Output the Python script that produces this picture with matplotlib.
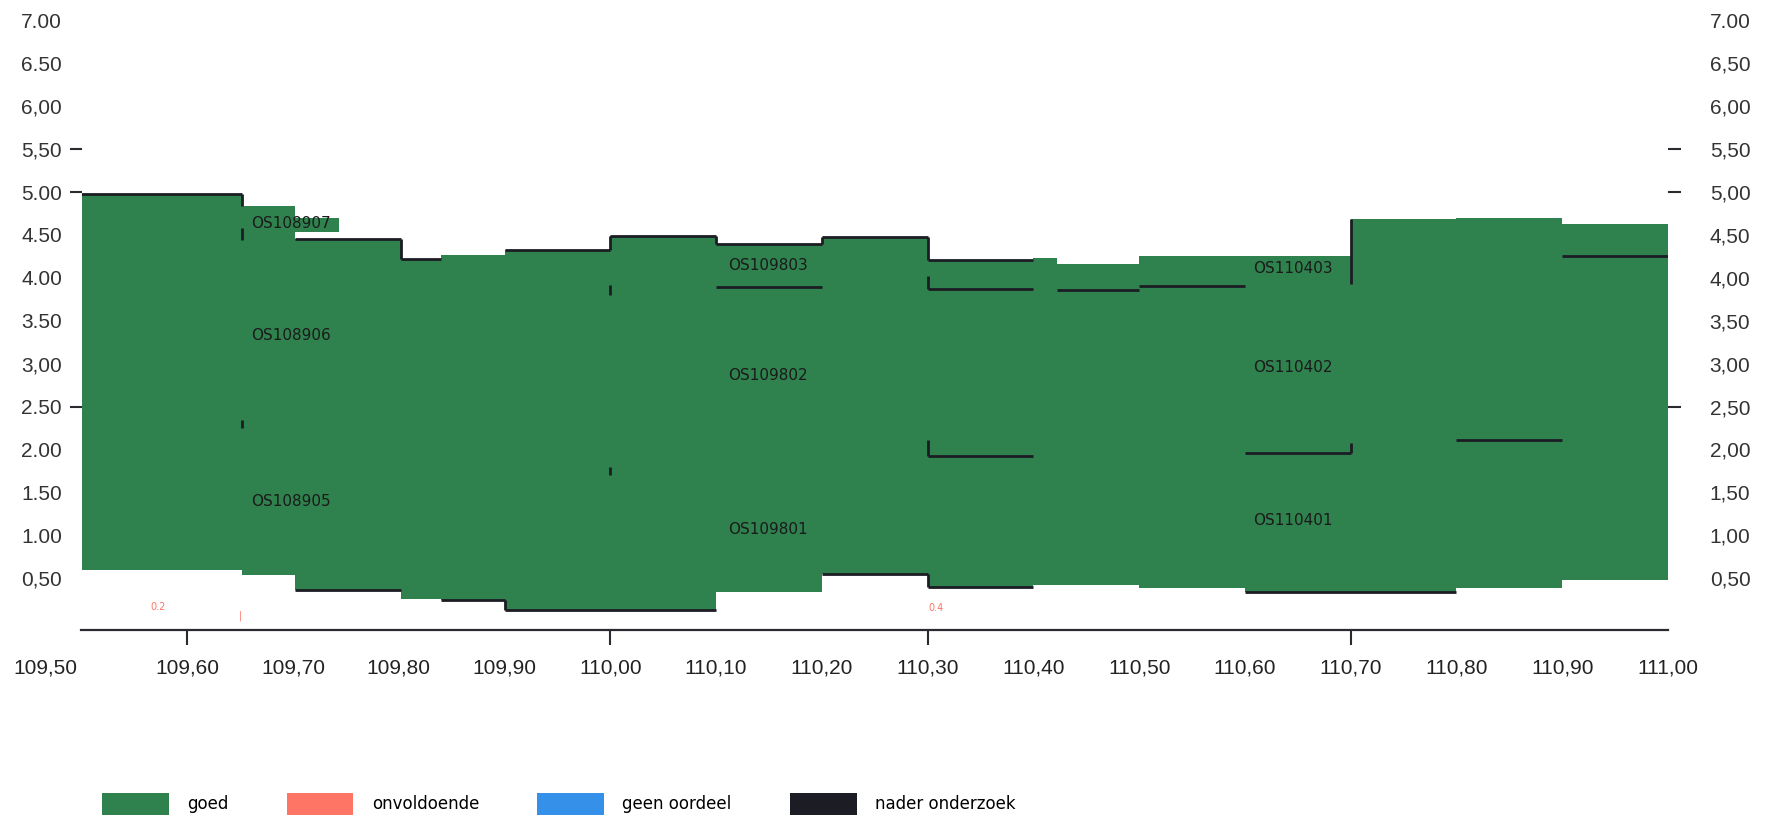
import numpy as np
import matplotlib.pyplot as plt
from matplotlib.patches import Patch
from matplotlib.transforms import ScaledTranslation

# green sections: start / end (km), bottom / top (m)
sec_start = [109.500, 109.652, 109.702, 109.802, 109.840, 109.900, 110.000, 110.100, 110.200,
             110.300, 110.400, 110.422, 110.500, 110.600, 110.700, 110.800, 110.900, 109.702]
sec_end = [109.652, 109.702, 109.802, 109.840, 109.900, 110.000, 110.100, 110.200, 110.300,
           110.400, 110.422, 110.500, 110.600, 110.700, 110.800, 110.900, 111.000, 109.743]
sec_bottom = [0.59, 0.54, 0.36, 0.26, 0.25, 0.13, 0.13, 0.34, 0.55,
              0.40, 0.42, 0.42, 0.38, 0.34, 0.34, 0.39, 0.48, 4.53]
sec_top = [4.98, 4.84, 4.45, 4.22, 4.27, 4.32, 4.49, 4.39, 4.48,
           4.21, 4.23, 4.16, 4.25, 4.25, 4.68, 4.70, 4.63, 4.70]

# black "nader onderzoek" lines
hl_x0 = [109.500, 109.702, 109.802, 109.900, 110.000, 110.100, 110.200, 110.300,
         110.100, 110.300, 110.422, 110.500, 110.300, 110.600, 110.800, 110.900,
         109.702, 109.840, 109.900, 110.200, 110.300, 110.600]
hl_x1 = [109.652, 109.802, 109.840, 110.000, 110.100, 110.200, 110.300, 110.400,
         110.200, 110.400, 110.500, 110.600, 110.400, 110.700, 110.900, 111.000,
         109.802, 109.900, 110.100, 110.300, 110.400, 110.800]
hl_y = [4.98, 4.45, 4.22, 4.32, 4.49, 4.39, 4.48, 4.21,
        3.89, 3.87, 3.86, 3.90, 1.92, 1.96, 2.11, 4.25,
        0.36, 0.25, 0.13, 0.55, 0.40, 0.34]

vl_x = [109.652, 109.652, 109.652, 109.802, 110.000, 110.000, 110.000, 110.100, 110.200,
        110.300, 110.300, 110.300, 110.300, 110.700, 110.700, 109.900]
vl_y0 = [4.84, 4.44, 2.25, 4.22, 4.32, 3.80, 1.70, 4.39, 4.39,
         4.21, 3.87, 1.92, 0.40, 3.93, 1.96, 0.13]
vl_y1 = [4.98, 4.58, 2.34, 4.45, 4.49, 3.92, 1.80, 4.49, 4.48,
         4.48, 4.02, 2.11, 0.55, 4.68, 2.07, 0.25]

# section codes
lab_text = ['OS108907', 'OS108906', 'OS108905', 'OS109803', 'OS109802', 'OS109801',
            'OS110403', 'OS110402', 'OS110401']
lab_x = [109.660, 109.660, 109.660, 110.111, 110.111, 110.111, 110.608, 110.608, 110.608]
lab_y = [4.63, 3.33, 1.39, 4.14, 2.86, 1.07, 4.11, 2.95, 1.17]

# small red values
red_text = ['0.2', '|', '0.4']
red_x = [109.572, 109.650, 110.308]
red_y = [0.16, 0.06, 0.15]

x_ticks = [109.5, 109.6, 109.7, 109.8, 109.9, 110.0, 110.1, 110.2, 110.3, 110.4,
           110.5, 110.6, 110.7, 110.8, 110.9, 111.0]
x_labels = ['109,50', '109,60', '109,70', '109,80', '109,90', '110,00', '110,10', '110,20',
            '110,30', '110,40', '110,50', '110,60', '110,70', '110,80', '110,90', '111,00']
x_marks = [109.6, 110.0, 110.3, 110.7]
y_ticks = [0.5, 1.0, 1.5, 2.0, 2.5, 3.0, 3.5, 4.0, 4.5, 5.0, 5.5, 6.0, 6.5, 7.0]
y_labels_left = ['0,50', '1.00', '1.50', '2.00', '2.50', '3,00', '3.50', '4.00', '4.50',
                 '5.00', '5,50', '6,00', '6.50', '7.00']
y_labels_right = ['0,50', '1,00', '1,50', '2,00', '2,50', '3,00', '3,50', '4,00', '4,50',
                  '5,00', '5,50', '6,00', '6,50', '7.00']
y_marks = [2.5, 5.0, 5.5]

legend_names = ['goed', 'onvoldoende', 'geen oordeel', 'nader onderzoek']
legend_colors = ['#2f824e', '#ff7565', '#3590ea', '#1c1c24']

green = legend_colors[0]
black = legend_colors[3]

fig = plt.figure(figsize=(17.75, 8.15), dpi=100)
ax = fig.add_axes([81.5 / 1775, (815 - 629.6) / 815, (1668 - 81.5) / 1775, (629.6 - 20.4) / 815])

widths = np.array(sec_end) - np.array(sec_start)
heights = np.array(sec_top) - np.array(sec_bottom)
ax.bar(sec_start, heights, width=widths, bottom=sec_bottom, align='edge',
       color=green, linewidth=0)

ax.hlines(hl_y, hl_x0, hl_x1, color=black, lw=2.0)
ax.vlines(vl_x, vl_y0, vl_y1, color=black, lw=2.0)

for t, x, y in zip(lab_text, lab_x, lab_y):
    ax.text(x, y, t, ha='left', va='center', fontsize=11, color='#1a1a1a',
            family='DejaVu Sans')
for t, x, y in zip(red_text, red_x, red_y):
    ax.text(x, y, t, ha='center', va='center', fontsize=7, color=legend_colors[1])

ax.set_xlim(109.5, 111.0)
ax.set_ylim(-0.1, 7.0)
for s in ['left', 'right', 'top']:
    ax.spines[s].set_visible(False)
ax.spines['bottom'].set_color('#2a2a30')
ax.spines['bottom'].set_linewidth(1.6)
ax.spines['bottom'].set_position(('data', -0.1))

ax2 = ax.twinx()
ax2.set_ylim(ax.get_ylim())
for s in ax2.spines.values():
    s.set_visible(False)

ax.set_xticks(x_ticks)
ax.set_xticklabels(x_labels)
ax.tick_params(axis='x', length=11, width=1.5, color='#2a2a30', pad=10,
               labelsize=15, labelcolor='#222222')
ax.set_yticks(y_ticks)
ax.set_yticklabels(y_labels_left)
ax.tick_params(axis='y', length=9, width=1.5, color='#2a2a30', pad=5,
               labelsize=15, labelcolor='#333333')
ax2.set_yticks(y_ticks)
ax2.set_yticklabels(y_labels_right)
ax2.tick_params(axis='y', length=9, width=1.5, color='#2a2a30', pad=21,
                labelsize=15, labelcolor='#333333')

# only a few positions carry a visible tick mark
for tick, pos in zip(ax.xaxis.get_major_ticks(), x_ticks):
    if pos not in x_marks:
        tick.tick1line.set_visible(False)
for a in (ax, ax2):
    for tick, pos in zip(a.yaxis.get_major_ticks(), y_ticks):
        if pos not in y_marks:
            tick.tick1line.set_visible(False)
            tick.tick2line.set_visible(False)

for a in (ax, ax2):
    for lab in a.get_xticklabels() + a.get_yticklabels():
        lab.set_family('Liberation Sans')

first = ax.get_xticklabels()[0]
first.set_transform(first.get_transform() + ScaledTranslation(-0.36, 0, fig.dpi_scale_trans))

handles = [Patch(facecolor=c, edgecolor='none') for c in legend_colors]
fig.legend(handles, legend_names, loc='center left', bbox_to_anchor=(102 / 1775, 11 / 815),
           ncol=4, frameon=False, fontsize=12, handlelength=4.0, handleheight=1.6,
           handletextpad=1.1, columnspacing=3.5, borderpad=0, borderaxespad=0)

fig.savefig('out.png', dpi=100)
